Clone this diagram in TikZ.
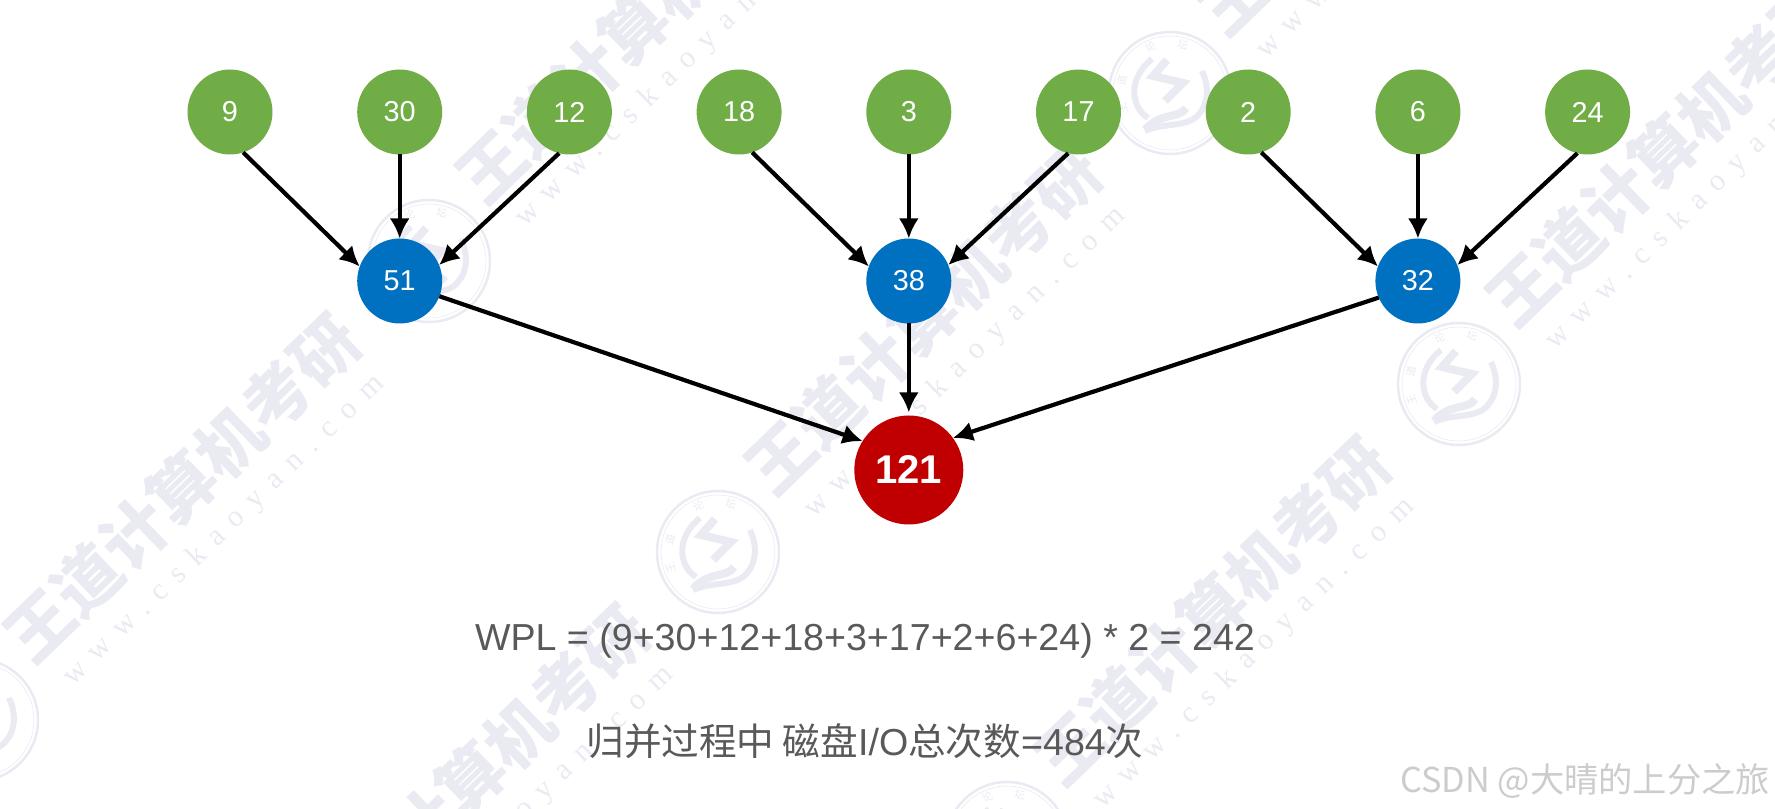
\documentclass[tikz,border=0pt]{standalone}
\usepackage{fontspec}
\usepackage{xcolor}
\usetikzlibrary{arrows.meta,positioning}
\setmainfont{Liberation Sans}
\newfontfamily\cjk{Noto Sans CJK SC}
\newfontfamily\wmurl[LetterSpace=42]{Liberation Serif}
\definecolor{leafgreen}{HTML}{70AD47}
\definecolor{midblue}{HTML}{0070C0}
\definecolor{rootred}{HTML}{C00000}
\definecolor{textgray}{HTML}{595959}
\definecolor{wmgray}{HTML}{E9EAF2}

\begin{document}
\begin{tikzpicture}[
  x=1mm,y=1mm,
  outer sep=0pt,
  leaf/.style={fill=leafgreen,circle,minimum size=8.5mm,inner sep=0pt,text=white,font=\fontsize{8.2}{10}\selectfont},
  merged/.style={fill=midblue,circle,minimum size=8.5mm,inner sep=0pt,text=white,font=\fontsize{8.2}{10}\selectfont},
  total/.style={fill=rootred,circle,minimum size=10.9mm,inner sep=0pt,text=white,font=\bfseries\fontsize{11.4}{14}\selectfont},
  arr/.style={black,line width=0.42mm,-{Latex[length=2mm,width=2mm]}},
  note/.style={text=textgray,inner sep=0pt,font=\fontsize{10.7}{12}\selectfont},
  wmtext/.style={text=wmgray,rotate=44,inner sep=0pt,font=\cjk\bfseries\fontsize{18.8}{20}\selectfont},
  wmlink/.style={text=wmgray,rotate=44,inner sep=0pt,font=\wmurl\fontsize{8.6}{10}\selectfont},
  wmseal/.style={text=wmgray,inner sep=0pt,font=\cjk\fontsize{3}{3}\selectfont}
]
\useasboundingbox (0,0) rectangle (177.5,-80.9);

% watermark behind the tree
\begin{scope}
\clip (0,0) rectangle (177.5,-80.9);
\foreach \i/\j in {-1/0,0/0,1/0,-1/1,0/1,0/-1,1/-1}{
  \pgfmathsetmacro{\sx}{71.8+28.9*\i+74.1*\j}
  \pgfmathsetmacro{\sy}{-55.2-29.1*\i+16.8*\j}
  \node[wmtext] (wt\i\j) at (\sx+20.5,\sy+23.2) {王道计算机考研};
  \node[wmlink] (wu\i\j) at (\sx+24.7,\sy+18.9) {www.cskaoyan.com};
  \begin{scope}[shift={(\sx,\sy)}]
    \draw[wmgray,line width=0.25mm] (0,0) circle (6.1);
    \draw[wmgray,line width=0.06mm] (0,0) circle (5.7);
    \draw[wmgray,line width=0.6mm] (-1.8,3.4) .. controls (-4.3,1.4) and (-3.9,-1.4) .. (-2.2,-2.5);
    \draw[wmgray,line width=0.8mm] (-2.5,-3.7) .. controls (-1,-1.9) and (1,-2.6) .. (1.6,-1.5);
    \draw[wmgray,line width=0.6mm] (-2.5,-3.8) .. controls (-0.5,-2.9) and (1.8,-3.5) .. (2.9,-2.1)
      .. controls (3.9,-1) and (3.9,0.8) .. (3.2,2.2);
    \draw[wmgray,line width=0.8mm] (-0.3,3.3) -- (-1.7,1.7) -- (1.3,1) -- (-0.5,-0.8);
    \node[wmseal,rotate=109] (wa\i\j) at (199:5) {王};
    \node[wmseal,rotate=75] (wb\i\j) at (165:5) {道};
    \node[wmseal,rotate=23] (wc\i\j) at (113:5) {论};
    \node[wmseal,rotate=-15] (wd\i\j) at (75:5) {坛};
  \end{scope}
}
\end{scope}

\node[leaf] (l9) at (23,-11.2) {9};
\node[leaf] (l30) [right=8.47mm of l9] {30};
\node[leaf] (l12) [right=8.47mm of l30] {12};
\node[leaf] (l18) [right=8.47mm of l12] {18};
\node[leaf] (l3) [right=8.47mm of l18] {3};
\node[leaf] (l17) [right=8.47mm of l3] {17};
\node[leaf] (l2) [right=8.47mm of l17] {2};
\node[leaf] (l6) [right=8.47mm of l2] {6};
\node[leaf] (l24) [right=8.47mm of l6] {24};

\node[merged] (n51) [below=8.4mm of l30] {51};
\node[merged] (n38) [below=8.4mm of l3] {38};
\node[merged] (n32) [below=8.4mm of l6] {32};
\node[total] (r121) [below=9.2mm of n38] {121};

\draw[arr] (l9.-72)--(n51.160);
\draw[arr] (l30.south)--(n51.north);
\draw[arr] (l12.-104)--(n51.22);
\draw[arr] (l18.-72)--(n38.160);
\draw[arr] (l3.south)--(n38.north);
\draw[arr] (l17.-104)--(n38.22);
\draw[arr] (l2.-72)--(n32.160);
\draw[arr] (l6.south)--(n32.north);
\draw[arr] (l24.-104)--(n32.22);

\draw[arr] (n51.-21)--(r121.148);
\draw[arr,shorten >=0.3mm] (n38.south)--(r121.north);
\draw[arr] (n32.203)--(r121.36);

\node[note] (wpl) at (86.5,-64.1) {WPL = (9+30+12+18+3+17+2+6+24) * 2 = 242};
\node[note] (disk) at (86.5,-74.1) {{\cjk 归并过程中 磁盘}I/O{\cjk 总次数}=484{\cjk 次}};
\node[text=black!20,inner sep=0pt,anchor=east,font=\cjk\fontsize{9.75}{10}\selectfont] (mark) at (177,-78.1) {CSDN @大晴的上分之旅};
\end{tikzpicture}
\end{document}
